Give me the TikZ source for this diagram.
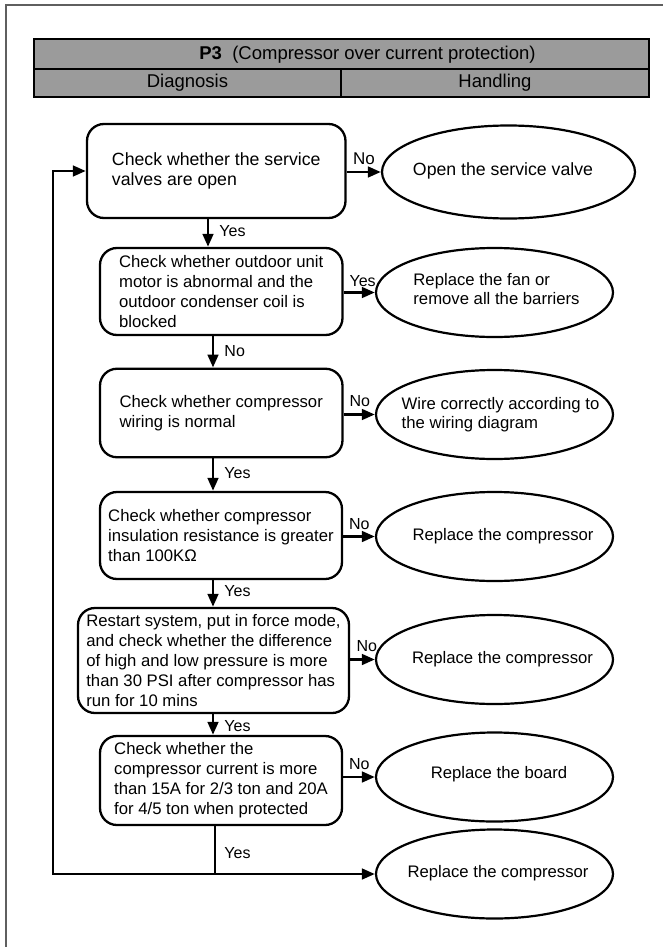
\documentclass[tikz,border=0pt]{standalone}
\usepackage{fontspec}
\setmainfont{Liberation Sans}
\usetikzlibrary{arrows.meta,shapes.geometric}
\definecolor{hdgray}{RGB}{155,155,155}
\definecolor{framegray}{RGB}{95,95,95}
\begin{document}
\begin{tikzpicture}[x=1pt,y=-1pt,
  conn/.style={line width=2.9pt, line cap=butt, line join=miter},
  arr/.style={conn, -{Triangle[length=13pt,width=10.5pt]}},
  box/.style={draw, line width=2.3pt, rounded corners=17pt, align=left, inner sep=0pt,
    font=\fontsize{16.7}{20}\selectfont},
  oval/.style={draw, ellipse, line width=2.2pt, minimum width=237pt, minimum height=89pt, inner sep=0pt},
  otext/.style={align=left, inner sep=0pt, font=\fontsize{16.7}{19}\selectfont},
  lbl/.style={inner sep=0pt, font=\fontsize{16}{19}\selectfont},
  hcell/.style={draw, line width=2.8pt, fill=hdgray, inner sep=0pt, font=\fontsize{18.5}{20}\selectfont},
]
\useasboundingbox (0,0) rectangle (663,947);
% outer frame
\draw[framegray, line width=1.5pt] (6,950) -- (6,5) -- (665,5);

% header
\node[hcell, minimum width=615pt, minimum height=30pt] (hd) at (341.5,54) {};
\node[inner sep=0pt, font=\fontsize{18.5}{20}\selectfont] (hdt) at (367.5,54.5) {\textbf{P3}~~(Compressor over current protection)};
\node[hcell, minimum width=307pt, minimum height=28pt] (hdiag) at (187.5,83) {Diagnosis};
\node[hcell, minimum width=308pt, minimum height=28pt] (hhand) at (495,83) {Handling};

% diagnosis boxes
\node[box, minimum width=258.5pt, minimum height=94pt, font=\fontsize{17.7}{20}\selectfont] (b1) at (216.25,171)
  {Check whether the service\\valves are open};
\node[box, minimum width=242.5pt, minimum height=87pt] (b2) at (221.25,291.5)
  {Check whether outdoor unit\\motor is abnormal and the\\outdoor condenser coil is\\blocked};
\node[box, minimum width=242.5pt, minimum height=88.5pt] (b3) at (221.25,413)
  {Check whether compressor\\wiring is normal};
\node[box, minimum width=242pt, minimum height=87pt] (b4) at (221,535.5)
  {Check whether compressor\\insulation resistance is greater\\than 100KΩ};
\node[box, minimum width=271pt, minimum height=105pt] (b5) at (213.5,660.5)
  {Restart system, put in force mode,\\and check whether the difference\\of high and low pressure is more\\than 30 PSI after compressor has\\run for 10 mins};
\node[box, minimum width=242pt, minimum height=89pt] (b6) at (221,780.5)
  {Check whether the\\compressor current is more\\than 15A for 2/3 ton and 20A\\for 4/5 ton when protected};

% handling ellipses
\node[oval, minimum width=253pt, minimum height=93pt] (e1) at (508.5,172) {};
\node[otext, font=\fontsize{17.7}{20}\selectfont] (t1) at (503,171) {Open the service valve};
\node[oval] (e2) at (494.5,292.5) {};
\node[otext] (t2) at (496.5,289.5) {Replace the fan or\\remove all the barriers};
\node[oval] (e3) at (494.5,414.5) {};
\node[otext] (t3) at (500.5,415) {Wire correctly according to\\the wiring diagram};
\node[oval] (e4) at (494.5,536.5) {};
\node[otext] (t4) at (503,536) {Replace the compressor};
\node[oval] (e5) at (494.5,659.5) {};
\node[otext] (t5) at (502.5,659) {Replace the compressor};
\node[oval] (e6) at (494.5,777) {};
\node[otext] (t6) at (499,774) {Replace the board};
\node[oval] (e7) at (494.5,874) {};
\node[otext] (t7) at (498,873) {Replace the compressor};

% horizontal connectors
\draw[arr] (b1.east |- e1.west) -- node[lbl, anchor=base west, pos=0, xshift=5pt, yshift=8pt, font=\fontsize{17}{19}\selectfont]{No} (e1.west);
\draw[arr] (b2.east |- e2.west) -- node[lbl, anchor=base west, pos=0, xshift=4.5pt, yshift=6.5pt]{Yes} (e2.west);
\draw[arr] (b3.east |- e3.west) -- node[lbl, anchor=base west, pos=0, xshift=4.5pt, yshift=8pt]{No} (e3.west);
\draw[arr] (b4.east |- e4.west) -- node[lbl, anchor=base west, pos=0, xshift=4.5pt, yshift=7.5pt]{No} (e4.west);
\draw[arr] (b5.east |- e5.west) -- node[lbl, anchor=base west, pos=0, xshift=5pt, yshift=8pt]{No} (e5.west);
\draw[arr] (b6.east |- e6.west) -- node[lbl, anchor=base west, pos=0, xshift=4.5pt, yshift=7.5pt]{No} (e6.west);

% vertical connectors
\draw[arr] ([xshift=-8.25pt]b1.south) -- ([xshift=-8.25pt]b1.south |- b2.north)
  node[lbl, anchor=base west, pos=0, xshift=10pt, yshift=-17pt]{Yes};
\draw[arr] ([xshift=-8.25pt]b2.south) -- ([xshift=-8.25pt]b2.south |- b3.north)
  node[lbl, anchor=base west, pos=0, xshift=10pt, yshift=-20pt]{No};
\draw[arr] ([xshift=-8.25pt]b3.south) -- ([xshift=-8.25pt]b3.south |- b4.north)
  node[lbl, anchor=base west, pos=0, xshift=10pt, yshift=-20pt]{Yes};
\draw[arr] ([xshift=-8pt]b4.south) -- ([xshift=-8pt]b4.south |- b5.north)
  node[lbl, anchor=base west, pos=0, xshift=10pt, yshift=-16pt]{Yes};
\draw[arr] ([xshift=-0.5pt]b5.south) -- ([xshift=-0.5pt]b5.south |- b6.north)
  node[lbl, anchor=base west, pos=0, xshift=10pt, yshift=-17pt]{Yes};

% final branch and loop back
\coordinate (j) at (215,874);
\coordinate (lp) at (53,874);
\draw[conn] (b6.south -| j) -- (j)
  node[lbl, anchor=base west, pos=0, xshift=8pt, yshift=-32pt]{Yes};
\draw[arr] (j) -- (j -| e7.west);
\draw[arr] (j) -- (lp) |- (b1.west);
\end{tikzpicture}
\end{document}
